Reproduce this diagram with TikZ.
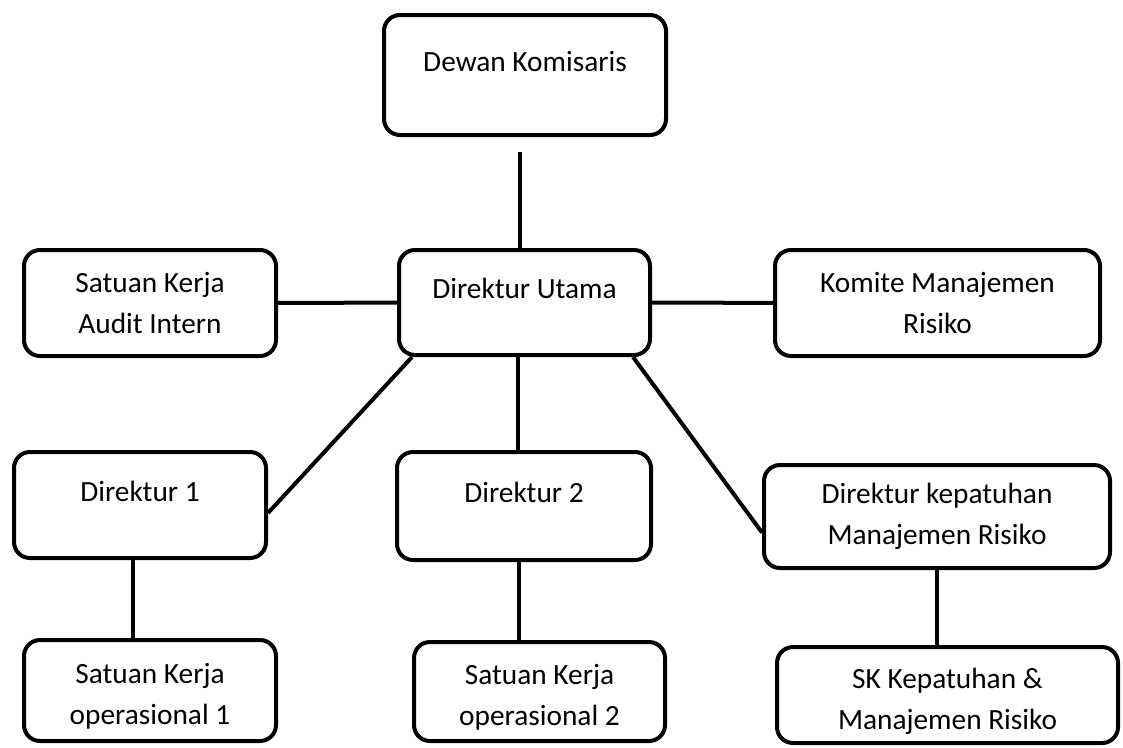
\documentclass[tikz,border=0pt]{standalone}
\usepackage{fontspec}
\setmainfont{Carlito}
\usetikzlibrary{positioning, calc}

\newcommand{\lowline}{\rule{0pt}{24.5pt}}

\begin{document}
\begin{tikzpicture}[
    x=0.75pt, y=-0.75pt,
    unit/.style={rectangle, draw=black, line width=3pt, rounded corners=12pt, align=center, inner sep=0pt, font=\fontsize{22}{30.75}\selectfont},
    raised/.style={text height=15pt, text depth=21pt},
    link/.style={draw=black, line width=3pt}
]
    \useasboundingbox (0,0) rectangle (1123,747);

    % Top
    \node[unit, raised, minimum width=211.5pt, minimum height=90pt] (dewan) at (525,75) {Dewan Komisaris};
    \node[unit, raised, minimum width=188.25pt, minimum height=78.75pt] (utama) at (524.5,302.5) {Direktur Utama};

    % Staff units beside the director
    \node[unit, minimum width=189pt, minimum height=79.5pt] (audit) at (150,303) {Satuan Kerja\\Audit Intern};
    \node[unit, minimum width=243.75pt, minimum height=79.5pt] (komite) at (937.5,303) {Komite Manajemen\\Risiko};

    % Directors
    \node[unit, raised, minimum width=189pt, minimum height=79.5pt] (dir1) at (140,505) {Direktur 1};
    \node[unit, raised, minimum width=190.5pt, minimum height=81pt] (dir2) at (524,506) {Direktur 2};
    \node[unit, minimum width=259.5pt, minimum height=77.25pt] (dirk) at (937,516.5) {Direktur kepatuhan\\Manajemen Risiko};

    % Working units
    \node[unit, minimum width=189pt, minimum height=75.75pt] (sko1) at (150,690.5) {\lowline Satuan Kerja\\operasional 1};
    \node[unit, minimum width=188.25pt, minimum height=74.25pt] (sko2) at (539.5,691.5) {\lowline Satuan Kerja\\operasional 2};
    \node[unit, minimum width=255.75pt, minimum height=72pt] (sk) at (947.5,695) {\lowline SK Kepatuhan \&\\Manajemen Risiko};

    % Connections
    \draw[link, shorten <=11.25pt] ([xshift=-3.75pt]dewan.south) -- ([xshift=-3.75pt]dewan.south |- utama.north);
    \draw[link] (audit) -- (utama);
    \draw[link] (utama) -- (komite);
    \draw[link] ($(utama.south west)+(15,0)$) -- ($(dir1.east)+(0,8)$);
    \draw[link] ([xshift=-4.9pt]utama.south) -- ([xshift=-4.9pt]utama.south |- dir2.north);
    \draw[link] ($(utama.south east)+(-19,0)$) -- ($(dirk.west)+(0,16)$);
    \draw[link] ([xshift=-5.25pt]dir1.south) -- ([xshift=-5.25pt]dir1.south |- sko1.north);
    \draw[link] ([xshift=-3.75pt]dir2.south) -- ([xshift=-3.75pt]dir2.south |- sko2.north);
    \draw[link] (dirk.south) -- (dirk.south |- sk.north);

\end{tikzpicture}
\end{document}
